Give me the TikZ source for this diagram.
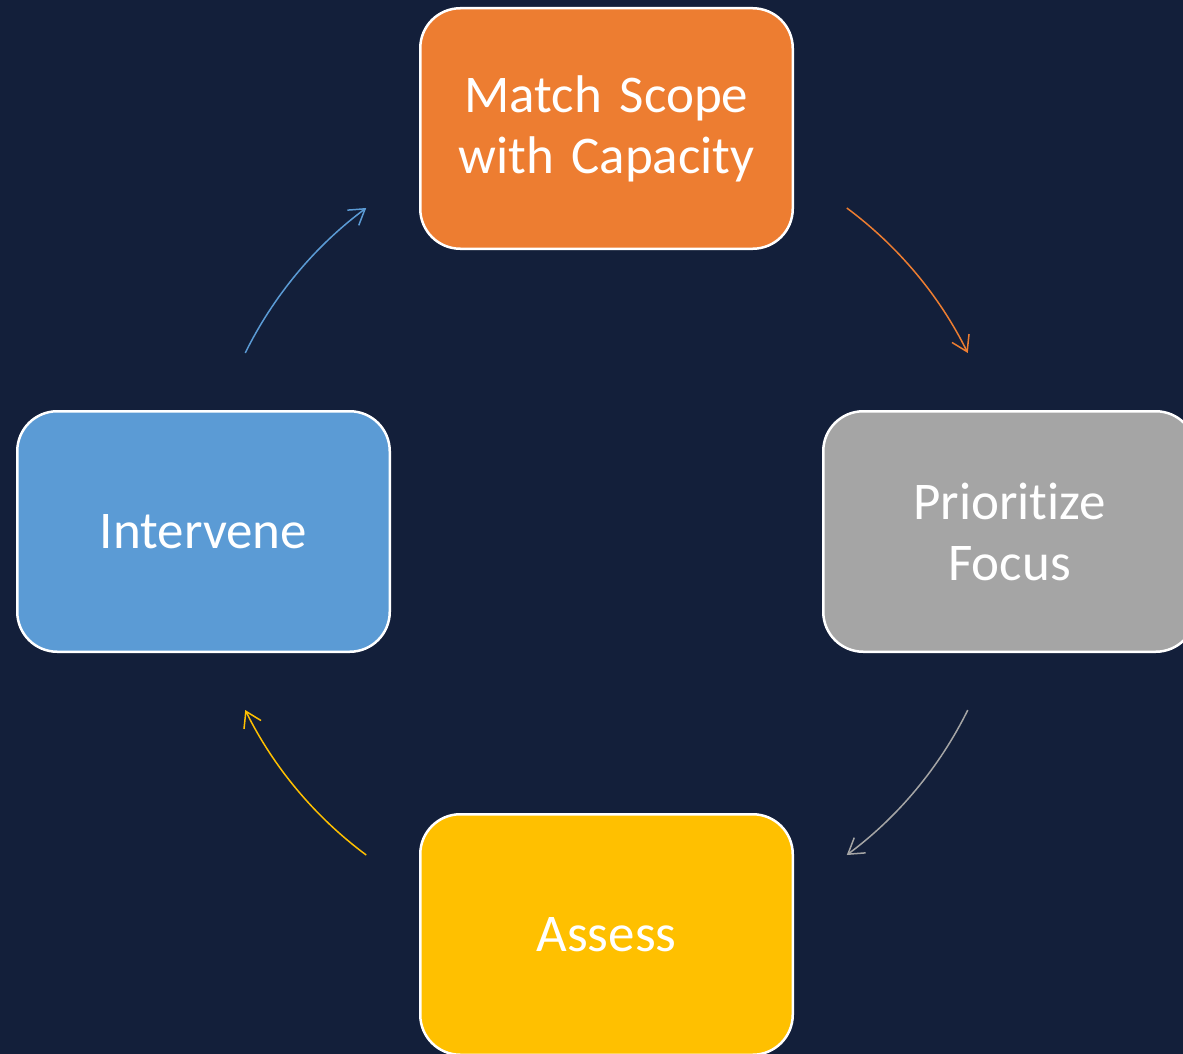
\documentclass[tikz,border=0pt]{standalone}
\usepackage{fontspec}
\usetikzlibrary{positioning,arrows.meta}
\newfontfamily\carlito[Ligatures=NoCommon]{Carlito}
\definecolor{bgC}{HTML}{131F3A}
\definecolor{orangeC}{HTML}{ED7D31}
\definecolor{grayC}{HTML}{A5A5A5}
\definecolor{yellowC}{HTML}{FFC000}
\definecolor{blueC}{HTML}{5B9BD5}

\begin{document}
\begin{tikzpicture}[x=1pt,y=1pt,
stage/.style={draw=white, line width=2.5pt, rounded corners=40pt,
  minimum width=372.5pt, minimum height=240.5pt, inner sep=0pt,
  text width=340pt, align=center, text=white,
  font={\carlito\fontsize{53}{61}\selectfont}},
flow/.style={line width=1.5pt, -{Straight Barb[length=15pt,width=19pt]}}]
\useasboundingbox (0,0) rectangle (1183,-1054);
\fill[bgC] (0,0) rectangle (1183,-1054);
\node[stage, fill=orangeC] (scope) at (606.5,-128.5) {Match Scope\\with Capacity};
\node[stage, fill=grayC, below right=160pt and 28pt of scope] (focus) {Prioritize\\Focus};
\node[stage, fill=blueC, below left=160pt and 28pt of scope] (intervene) {Intervene};
\node[stage, fill=yellowC, below right=160pt and 28pt of intervene] (assess) {Assess};
\coordinate (hub) at (scope |- intervene);
% arrows round the cycle
\foreach \a/\b/\c in {53.4/26.3/orangeC, -26.3/-53.4/grayC,
                      -126.6/-153.7/yellowC, 153.7/126.6/blueC}
  \draw[flow, \c] (hub) ++(\a:403) arc[start angle=\a, end angle=\b, radius=403];
\end{tikzpicture}
\end{document}
